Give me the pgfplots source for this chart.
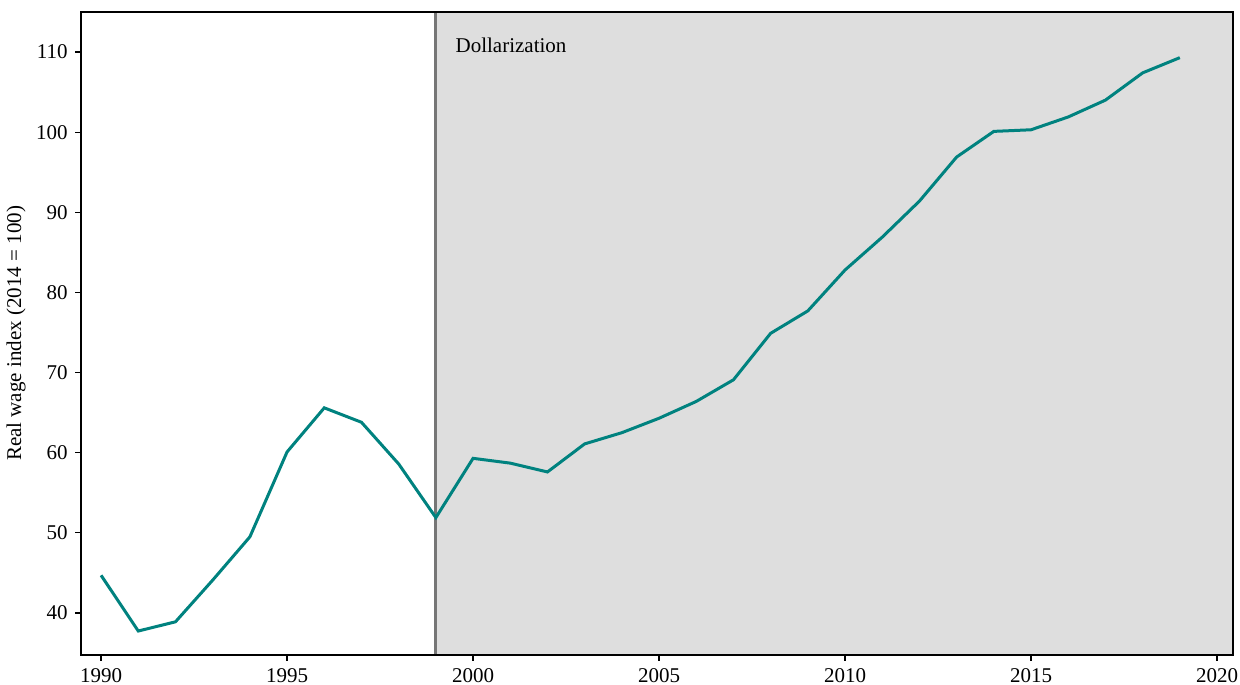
\documentclass[border=0pt]{standalone}
\usepackage{fontspec}
\setmainfont{Liberation Serif}
\usepackage{pgfplots}
\pgfplotsset{compat=1.18}
\definecolor{wageline}{HTML}{00827F}
\definecolor{bggray}{HTML}{DEDEDE}
\definecolor{vlinegray}{HTML}{767676}
\begin{document}
\fontsize{10.5pt}{12pt}\selectfont
\begin{tikzpicture}
\begin{axis}[
	scale only axis,
	width=576pt, height=321.5pt,
	xmin=1989.46, xmax=2020.43,
	ymin=34.76, ymax=115,
	xtick={1990,1995,...,2020},
	ytick={40,50,...,110},
	xticklabel style={/pgf/number format/1000 sep={}},
	/pgf/number format/assume math mode=true,
	tick pos=left, tick align=outside,
	major tick length=3pt,
	tick style={black, line width=0.6pt},
	axis line style={black, line width=1.2pt},
	ticklabel style={font=\fontsize{10.5pt}{12pt}\selectfont},
	ylabel={Real wage index (2014 = 100)},
	ylabel style={font=\fontsize{10.5pt}{12pt}\selectfont, yshift=-2pt},
	axis on top,
]
\fill[bggray] (axis cs:1999,34.76) rectangle (axis cs:2020.43,115);
\draw[vlinegray, line width=1.4pt] (axis cs:1999,34.76) -- (axis cs:1999,115);
\addplot[wageline, line width=1.5pt, mark=none] coordinates {
(1990,44.7) (1991,37.75) (1992,38.9) (1993,44.1) (1994,49.5)
(1995,60.1) (1996,65.6) (1997,63.8) (1998,58.6) (1999,51.9)
(2000,59.3) (2001,58.7) (2002,57.6) (2003,61.1) (2004,62.5)
(2005,64.3) (2006,66.4) (2007,69.1) (2008,74.9) (2009,77.7)
(2010,82.8) (2011,86.9) (2012,91.4) (2013,96.9) (2014,100.1)
(2015,100.3) (2016,101.9) (2017,104.0) (2018,107.4) (2019,109.3)
};
\node[anchor=west, inner sep=0pt] at (axis cs:1999.52,110.87) {Dollarization};
\end{axis}
\pgfresetboundingbox
\path ([shift={(-40.5pt,-15pt)}]current axis.south west) rectangle ([shift={(3.5pt,6pt)}]current axis.north east);
\end{tikzpicture}
\end{document}
